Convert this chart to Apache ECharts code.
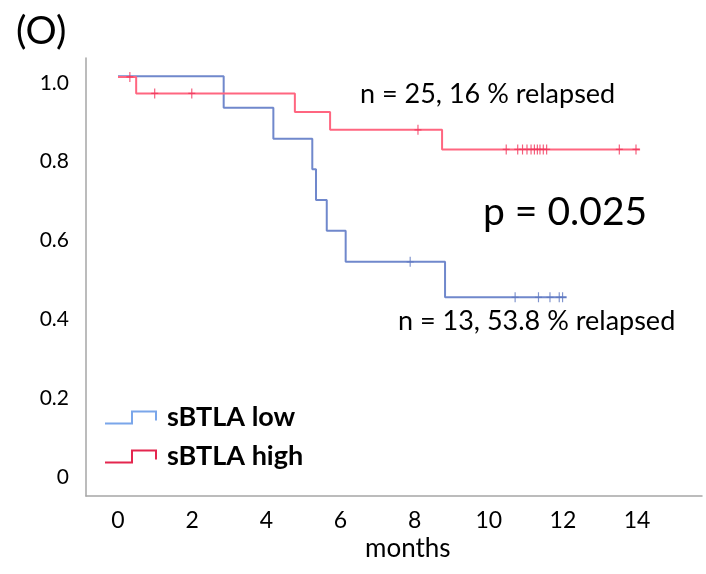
<!DOCTYPE html>
<html>
<head>
<meta charset="utf-8">
<script src="https://cdn.jsdelivr.net/npm/echarts@6/dist/echarts.min.js"></script>
<style>
html,body{margin:0;padding:0;background:#fff;}
#chart{width:706px;height:574px;}
</style>
</head>
<body>
<div id="chart"></div>
<script>
// ---- data ----
const xTickLabels = [0, 2, 4, 6, 8, 10, 12, 14];
const yTickLabels = [0, 0.2, 0.4, 0.6, 0.8, 1.0];

const lowTimes = [0, 2.85, 4.19, 5.24, 5.34, 5.63, 6.14, 8.82, 12.1];
const lowSurv  = [1.017, 0.937, 0.858, 0.781, 0.703, 0.625, 0.546, 0.456, 0.456];
const lowCensorTimes = [7.88, 10.71, 11.34, 11.65, 11.90, 11.99];
const lowCensorSurv  = [0.546, 0.456, 0.456, 0.456, 0.456, 0.456];

const highTimes = [0, 0.49, 4.77, 5.72, 8.74, 14.08];
const highSurv  = [1.015, 0.973, 0.926, 0.881, 0.831, 0.831];
const highCensorTimes = [0.32, 0.99, 1.99, 8.09, 10.47, 10.78, 10.91, 11.03, 11.14, 11.23, 11.31, 11.38, 11.47, 11.56, 13.52, 13.97];
const highCensorSurv  = [1.015, 0.973, 0.973, 0.881, 0.831, 0.831, 0.831, 0.831, 0.831, 0.831, 0.831, 0.831, 0.831, 0.831, 0.831, 0.831];

const seriesNames = ['sBTLA low', 'sBTLA high'];
const annotations = ['(O)', 'n = 25, 16 % relapsed', 'p = 0.025', 'n = 13, 53.8 % relapsed', 'months'];

// ---- build ----
const zip = (a, b) => a.map((v, i) => [v, b[i]]);
const FONT = 'Lato, "Open Sans", sans-serif';
const plusPath = 'path://M-1,-8 H1 V-1 H6 V1 H1 V8 H-1 V1 H-6 V-1 H-1 Z';
const stepIcon = 'path://M0,12 H26 V0 H52 V10 H50 V2 H28 V14 H0 Z';

const chart = echarts.init(document.getElementById('chart'));
chart.setOption({
  backgroundColor: '#fff',
  animation: false,
  grid: { left: 86, top: 58, right: 4, bottom: 78, containLabel: false },
  xAxis: {
    type: 'value', min: -0.863, max: 15.75,
    axisLine: { show: true, onZero: false, lineStyle: { color: '#a6a6a6', width: 1.5 } },
    axisTick: { show: false },
    splitLine: { show: false },
    axisLabel: { customValues: xTickLabels, fontSize: 23, color: '#000', margin: 13, fontFamily: FONT,
      formatter: v => String(Math.round(v)) }
  },
  yAxis: {
    type: 'value', min: -0.048, max: 1.063,
    axisLine: { show: true, onZero: false, lineStyle: { color: '#a6a6a6', width: 1.5 } },
    axisTick: { show: false },
    splitLine: { show: false },
    axisLabel: { customValues: yTickLabels, fontSize: 21, color: '#000', margin: 17, fontFamily: FONT,
      formatter: v => (Math.abs(v) < 1e-9 ? '0' : v.toFixed(1)) }
  },
  legend: {
    orient: 'vertical', left: 105, top: 404, padding: 0, itemWidth: 52, itemHeight: 14, itemGap: 12,
    textStyle: { fontSize: 27, fontWeight: 'bold', color: '#000', fontFamily: FONT, padding: [0, 0, 0, 5] },
    data: [
      { name: seriesNames[0], icon: stepIcon, itemStyle: { color: '#7aa6ea' } },
      { name: seriesNames[1], icon: stepIcon, itemStyle: { color: '#e4264f' } }
    ]
  },
  series: [
    { name: seriesNames[0], type: 'line', step: 'end', showSymbol: false, z: 2,
      data: zip(lowTimes, lowSurv), lineStyle: { color: '#7088cc', width: 2 }, itemStyle: { color: '#7aa6ea' } },
    { name: seriesNames[1], type: 'line', step: 'end', showSymbol: false, z: 3,
      data: zip(highTimes, highSurv), lineStyle: { color: '#ff6680', width: 2 }, itemStyle: { color: '#e4264f' } },
    { name: 'low censored', type: 'scatter', symbol: plusPath, symbolSize: [7, 10], z: 4,
      data: zip(lowCensorTimes, lowCensorSurv), itemStyle: { color: '#5f78c0' } },
    { name: 'high censored', type: 'scatter', symbol: plusPath, symbolSize: [7, 10], z: 5,
      data: zip(highCensorTimes, highCensorSurv), itemStyle: { color: '#f0345a' } }
  ],
  graphic: [
    { type: 'text', left: 16, top: 12, style: { text: annotations[0], fontSize: 39, fill: '#000', fontFamily: FONT } },
    { type: 'text', left: 360, top: 81, style: { text: annotations[1], fontSize: 27, fill: '#000', fontFamily: FONT } },
    { type: 'text', left: 483, top: 193, style: { text: annotations[2], fontSize: 39, fill: '#000', fontFamily: FONT } },
    { type: 'text', left: 398, top: 308, style: { text: annotations[3], fontSize: 27, fill: '#000', fontFamily: FONT } },
    { type: 'text', left: 365, top: 536, style: { text: annotations[4], fontSize: 26, fill: '#000', fontFamily: FONT } }
  ]
});
</script>
</body>
</html>
